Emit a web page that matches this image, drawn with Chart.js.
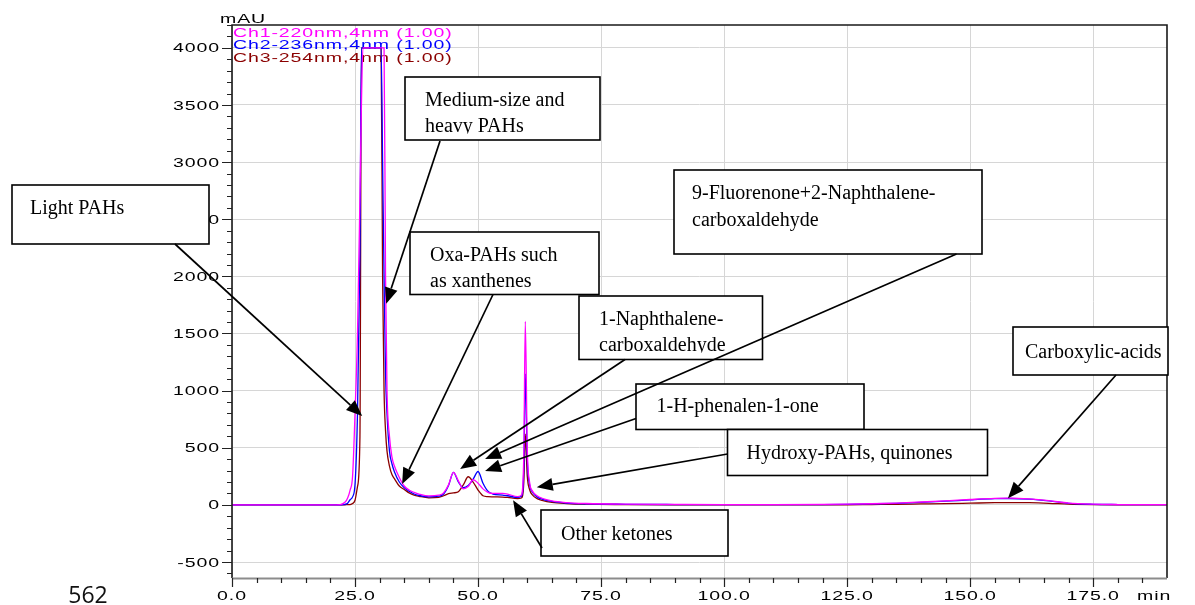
<!DOCTYPE html>
<html>
<head>
<meta charset="utf-8">
<script src="https://cdn.jsdelivr.net/npm/chart.js@4.4.1/dist/chart.umd.min.js"></script>
<style>
  html, body { margin: 0; padding: 0; background: #ffffff; overflow: hidden; }
  canvas { display: block; }
</style>
</head>
<body>
<canvas id="chrom" width="1195" height="605"></canvas>
<script>
// Retention time (min) shared by the three detector channels
const retentionTime = [
  0, 20, 22, 23, 23.5, 24, 24.5, 25, 25.5, 26,
  26.3, 26.6, 27, 30, 30.3, 30.6, 30.9, 31.2, 31.5, 32,
  32.5, 33, 34, 35, 36, 37, 38, 40, 42, 43,
  44, 45, 46, 47, 48, 49, 50, 51, 52, 53,
  55, 56, 58, 58.8, 59.3, 59.6, 60, 60.5, 61, 62,
  63, 65, 68, 72, 80, 90, 100, 110, 120, 125,
  130, 135, 140, 145, 150, 155, 158, 162, 166, 170,
  175, 180, 190
];

// Absorbance (mAU), channel 1 (220 nm)
const ch1 = [
  0, 0, 3, 25, 60, 130, 250, 800, 1500, 2700,
  3500, 4000, 4000, 4000, 4000, 4000, 4000, 2000, 1000, 600,
  420, 340, 240, 165, 130, 110, 95, 78, 85, 105,
  175, 285, 210, 140, 160, 220, 190, 140, 110, 100,
  100, 95, 72, 85, 450, 1605, 500, 190, 125, 80,
  58, 35, 20, 12, 6, 4, 3, 3, 4, 6,
  10, 16, 25, 35, 47, 57, 59, 52, 37, 16,
  6, 3, 2
];

// Absorbance (mAU), channel 2 (236 nm)
const ch2 = [
  0, 0, 1, 5, 15, 45, 70, 180, 800, 2200,
  4000, 4000, 4000, 4000, 4000, 3000, 2000, 1150, 800, 470,
  360, 290, 200, 150, 120, 95, 82, 70, 76, 95,
  170, 285, 200, 150, 170, 225, 292, 190, 120, 95,
  85, 80, 65, 75, 320, 1147, 400, 170, 115, 70,
  50, 30, 16, 9, 5, 3, 2, 2, 3, 5,
  9, 14, 22, 32, 44, 54, 56, 50, 35, 14,
  5, 3, 2
];

// Absorbance (mAU), channel 3 (254 nm)
const ch3 = [
  0, 0, 0, 1, 2, 3, 12, 40, 160, 600,
  4000, 4000, 4000, 4000, 4000, 2000, 1000, 650, 470, 340,
  265, 230, 165, 135, 105, 85, 75, 62, 66, 80,
  98, 105, 115, 175, 246, 200, 130, 80, 72, 70,
  68, 65, 55, 60, 200, 620, 250, 130, 90, 55,
  40, 22, 12, 6, 3, 1, 0, 0, 0, 1,
  3, 5, 8, 11, 15, 19, 20, 19, 14, 6,
  2, 1, 0
];

const channelNames = ['Ch1-220nm,4nm (1.00)', 'Ch2-236nm,4nm (1.00)', 'Ch3-254nm,4nm (1.00)'];
const channelColors = ['#ff00ff', '#0000ff', '#8b0000'];

// Axis ticks
const yMajorTicks = [-500, 0, 500, 1000, 1500, 2000, 2500, 3000, 3500, 4000];
const yMinorTicks = [-600, -400, -300, -200, -100, 100, 200, 300, 400, 600, 700, 800, 900,
  1100, 1200, 1300, 1400, 1600, 1700, 1800, 1900, 2100, 2200, 2300, 2400, 2600, 2700, 2800, 2900,
  3100, 3200, 3300, 3400, 3600, 3700, 3800, 3900, 4100, 4200];
const xMajorTicks = [0, 25, 50, 75, 100, 125, 150, 175];
const xMinorTicks = [5, 10, 15, 20, 30, 35, 40, 45, 55, 60, 65, 70, 80, 85, 90, 95,
  105, 110, 115, 120, 130, 135, 140, 145, 155, 160, 165, 170, 180, 185];
const xTickLabels = ['0.0', '25.0', '50.0', '75.0', '100.0', '125.0', '150.0', '175.0'];
const yTickLabels = ['-500', '0', '500', '1000', '1500', '2000', '2500', '3000', '3500', '4000'];
const yUnit = 'mAU';
const xUnit = 'min';
const figureNumber = '562';

// Peak annotations: label lines, box, text clip margin and arrow tail in canvas pixels,
// arrow tip in data units [min, mAU]
const annotations = [
  { lines: ['Light PAHs'], box: [12, 185, 209, 244], text: [30, 214], clip: 2, tail: [175, 244], tip: [26.46, 778] },
  { lines: ['Medium-size and', 'heavy PAHs'], box: [405, 77, 600, 140], text: [425, 105.5], clip: 6.5, tail: [440, 141], tip: [31.33, 1760] },
  { lines: ['Oxa-PAHs such', 'as xanthenes'], box: [410, 232, 599, 294.5], text: [430, 260.5], clip: 2, tail: [493, 294.5], tip: [34.58, 182] },
  { lines: ['9-Fluorenone+2-Naphthalene-', 'carboxaldehyde'], box: [674, 170, 982, 254], text: [692, 199], clip: 2, tail: [956.5, 254], tip: [51.43, 401] },
  { lines: ['1-Naphthalene-', 'carboxaldehyde'], box: [579, 296, 762.5, 359.5], text: [599, 324.5], clip: 7, tail: [625, 359.5], tip: [46.36, 313] },
  { lines: ['1-H-phenalen-1-one'], box: [636, 384, 864, 429.5], text: [656.5, 411.5], clip: 2, tail: [636, 418.5], tip: [51.43, 296] },
  { lines: ['Hydroxy-PAHs, quinones'], box: [727.5, 429.5, 987.5, 475.5], text: [746.5, 458.5], clip: 2, tail: [727.5, 454], tip: [61.93, 155] },
  { lines: ['Other ketones'], box: [541, 510, 728, 556], text: [561, 540], clip: 2, tail: [542, 548], tip: [57.12, 41] },
  { lines: ['Carboxylic-acids'], box: [1013, 327, 1168, 375], text: [1025, 357.5], clip: 2, tail: [1116, 375], tip: [157.69, 59] }
];

const WIDE = 1.5;
function wideText(ctx, str, x, y, align, color) {
  ctx.save();
  ctx.translate(x, y);
  ctx.scale(WIDE, 1);
  ctx.font = '13px "Liberation Sans", Arial, sans-serif';
  if ('letterSpacing' in ctx) ctx.letterSpacing = '0.6px';
  ctx.textAlign = align;
  ctx.textBaseline = 'alphabetic';
  ctx.fillStyle = color;
  ctx.fillText(str, 0, 0);
  ctx.restore();
}

function arrow(ctx, x1, y1, x2, y2) {
  const ang = Math.atan2(y2 - y1, x2 - x1);
  const len = 16, half = 6.5;
  const bx = x2 - len * Math.cos(ang), by = y2 - len * Math.sin(ang);
  ctx.beginPath();
  ctx.moveTo(x1, y1);
  ctx.lineTo(bx, by);
  ctx.strokeStyle = '#000';
  ctx.lineWidth = 1.7;
  ctx.stroke();
  ctx.beginPath();
  ctx.moveTo(x2, y2);
  ctx.lineTo(bx + half * Math.sin(ang), by - half * Math.cos(ang));
  ctx.lineTo(bx - half * Math.sin(ang), by + half * Math.cos(ang));
  ctx.closePath();
  ctx.fillStyle = '#000';
  ctx.fill();
}

const decorations = {
  id: 'decorations',
  beforeDatasetsDraw(chart) {
    const ctx = chart.ctx;
    const baselines = [36.9, 49.4, 62.3];
    channelNames.forEach((name, i) => wideText(ctx, name, 233, baselines[i], 'left', channelColors[i]));
  },
  afterDatasetsDraw(chart) {
    const ctx = chart.ctx;
    const xs = chart.scales.x, ys = chart.scales.y;
    const a = chart.chartArea;
    ctx.save();

    // frame
    ctx.lineWidth = 1.6;
    ctx.strokeStyle = '#1a1a1a';
    ctx.beginPath();
    ctx.moveTo(a.left, a.bottom);
    ctx.lineTo(a.left, a.top);
    ctx.lineTo(a.right, a.top);
    ctx.lineTo(a.right, a.bottom);
    ctx.stroke();
    ctx.strokeStyle = '#8c8c8c';
    ctx.lineWidth = 2;
    ctx.beginPath();
    ctx.moveTo(a.left, a.bottom + 0.5);
    ctx.lineTo(a.right, a.bottom + 0.5);
    ctx.stroke();

    // tick marks
    ctx.strokeStyle = '#222';
    ctx.lineWidth = 1.2;
    ctx.beginPath();
    yMajorTicks.forEach(v => { const p = Math.round(ys.getPixelForValue(v)) + 0.5; ctx.moveTo(a.left - 10, p); ctx.lineTo(a.left, p); });
    yMinorTicks.forEach(v => { const p = Math.round(ys.getPixelForValue(v)) + 0.5; ctx.moveTo(a.left - 5, p); ctx.lineTo(a.left, p); });
    xMajorTicks.forEach(v => { const p = Math.round(xs.getPixelForValue(v)) + 0.5; ctx.moveTo(p, a.bottom); ctx.lineTo(p, a.bottom + 9); });
    xMinorTicks.forEach(v => { const p = Math.round(xs.getPixelForValue(v)) + 0.5; ctx.moveTo(p, a.bottom); ctx.lineTo(p, a.bottom + 5); });
    ctx.stroke();

    // tick labels and units
    yMajorTicks.forEach((v, i) => wideText(ctx, yTickLabels[i], a.left - 12, ys.getPixelForValue(v) + 4.6, 'right', '#000'));
    xMajorTicks.forEach((v, i) => wideText(ctx, xTickLabels[i], xs.getPixelForValue(v), 600, 'center', '#000'));
    wideText(ctx, yUnit, 220, 22.7, 'left', '#000');
    wideText(ctx, xUnit, 1137, 600, 'left', '#000');

    ctx.font = '23px "Open Sans", "Noto Sans", sans-serif';
    ctx.fillStyle = '#111';
    ctx.textAlign = 'center';
    ctx.fillText(figureNumber, 88, 603);

    // annotation boxes; text is clipped to the inner margin of each box
    annotations.forEach(n => {
      const [x1, y1, x2, y2] = n.box;
      ctx.fillStyle = '#fff';
      ctx.fillRect(x1, y1, x2 - x1, y2 - y1);
      ctx.save();
      ctx.beginPath();
      ctx.rect(x1, y1, x2 - x1, y2 - y1 - n.clip);
      ctx.clip();
      ctx.font = '20px "Liberation Serif", "Times New Roman", serif';
      ctx.fillStyle = '#000';
      ctx.textAlign = 'left';
      ctx.textBaseline = 'alphabetic';
      n.lines.forEach((s, k) => ctx.fillText(s, n.text[0], n.text[1] + k * 26.5));
      ctx.restore();
      ctx.strokeStyle = '#000';
      ctx.lineWidth = 1.6;
      ctx.strokeRect(x1, y1, x2 - x1, y2 - y1);
    });

    // arrows to the peaks
    annotations.forEach(n => {
      arrow(ctx, n.tail[0], n.tail[1], xs.getPixelForValue(n.tip[0]), ys.getPixelForValue(n.tip[1]));
    });
    ctx.restore();
  }
};

const channels = [ch1, ch2, ch3];
new Chart(document.getElementById('chrom'), {
  type: 'line',
  data: {
    datasets: channels.map((vals, i) => ({
      label: channelNames[i],
      data: retentionTime.map((t, k) => ({ x: t, y: vals[k] })),
      borderColor: channelColors[i],
      borderWidth: 1.3,
      pointRadius: 0,
      fill: false,
      tension: 0,
      cubicInterpolationMode: 'monotone'
    }))
  },
  options: {
    responsive: false,
    animation: false,
    devicePixelRatio: 1,
    layout: { padding: { left: 232, top: 25, right: 28, bottom: 27 } },
    plugins: { legend: { display: false }, tooltip: { enabled: false } },
    scales: {
      x: {
        type: 'linear', min: 0, max: 190,
        afterBuildTicks: s => { s.ticks = xMajorTicks.map(v => ({ value: v })); },
        afterFit: s => { s.height = 0; },
        ticks: { display: false },
        grid: { color: '#d6d6d6', lineWidth: 1, drawTicks: false },
        border: { display: false }
      },
      y: {
        type: 'linear', min: -640, max: 4200,
        afterBuildTicks: s => { s.ticks = yMajorTicks.map(v => ({ value: v })); },
        afterFit: s => { s.width = 0; },
        ticks: { display: false },
        grid: { color: '#d6d6d6', lineWidth: 1, drawTicks: false },
        border: { display: false }
      }
    }
  },
  plugins: [decorations]
});
</script>
</body>
</html>
